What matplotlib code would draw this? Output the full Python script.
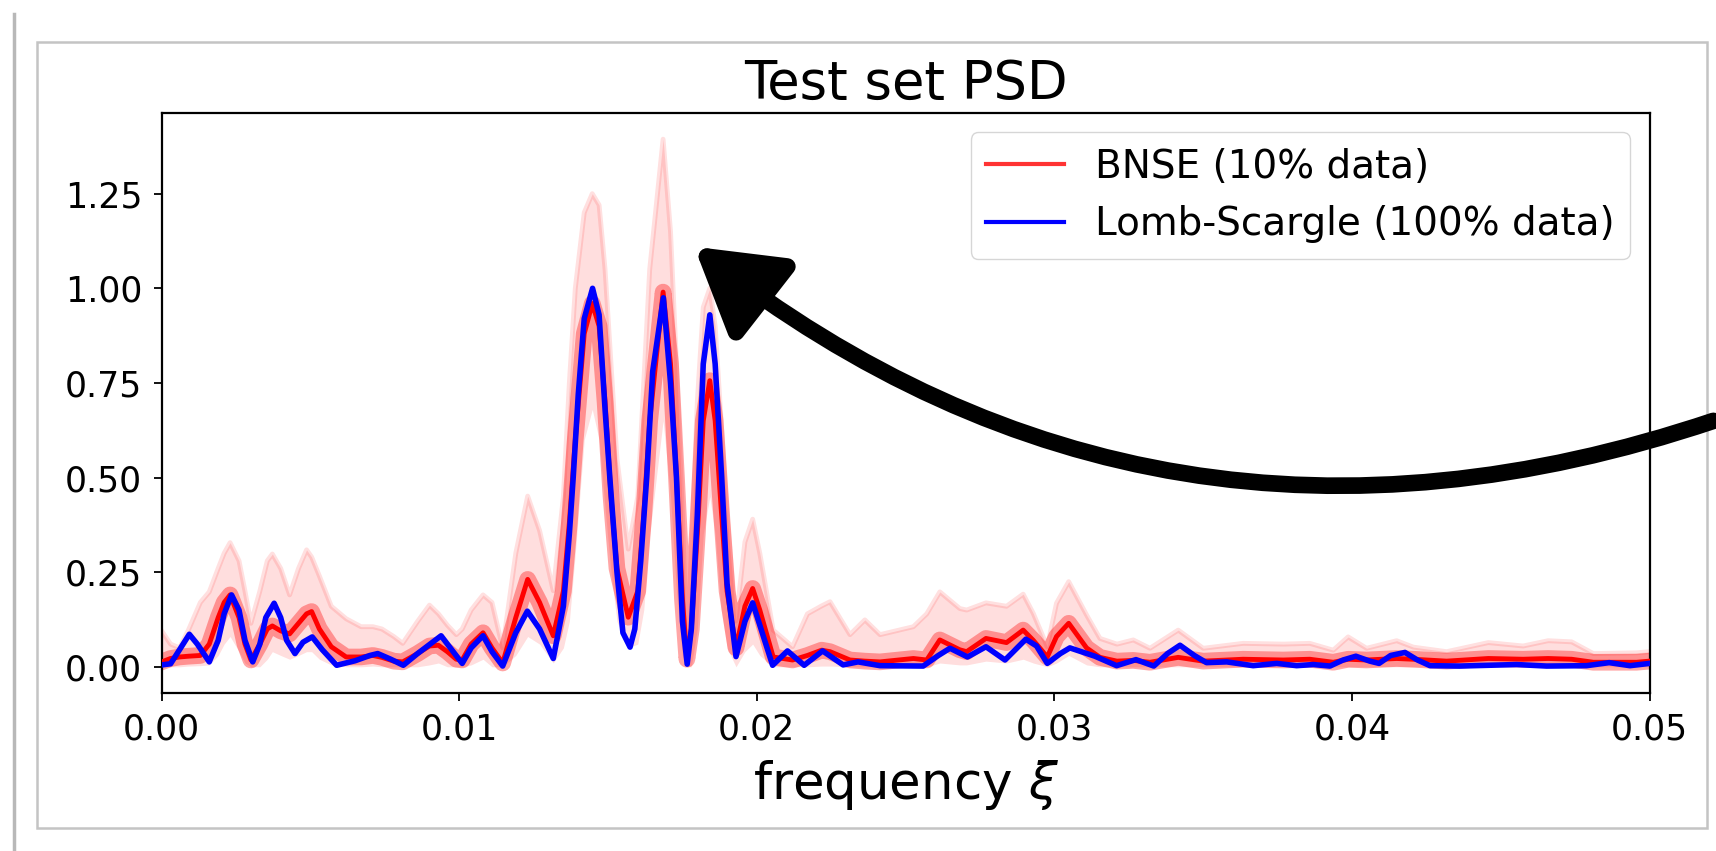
import matplotlib
matplotlib.use("Agg")
from matplotlib import pyplot as plt
from matplotlib.patches import FancyArrowPatch, Rectangle
from matplotlib.lines import Line2D
import numpy as np

# Lomb-Scargle periodogram (100% data)
ls_freq = [0.0, 0.0003, 0.0006, 0.00093, 0.0012, 0.0016, 0.0019, 0.0021, 0.00235, 0.0026,
           0.0028, 0.00306, 0.0033, 0.0035, 0.00378, 0.004, 0.0042, 0.00448, 0.00475, 0.00506,
           0.0054, 0.00588, 0.0065, 0.007, 0.00726, 0.0077, 0.00812, 0.0086, 0.00939, 0.0097,
           0.0101, 0.0104, 0.0108, 0.0111, 0.01146, 0.0119, 0.01229, 0.0127, 0.01316, 0.0135,
           0.0137, 0.01383, 0.014, 0.0142, 0.01448, 0.0147, 0.0149, 0.01506, 0.0153, 0.0155,
           0.01574, 0.0159, 0.0161, 0.0163, 0.0165, 0.01686, 0.0171, 0.0173, 0.0175, 0.01766,
           0.0178, 0.018, 0.0182, 0.01842, 0.0186, 0.01882, 0.019, 0.0193, 0.0196, 0.01986,
           0.0201, 0.02053, 0.02103, 0.02159, 0.02221, 0.0229, 0.0234, 0.02414, 0.02559, 0.0261,
           0.02649, 0.02708, 0.0277, 0.02834, 0.02904, 0.0294, 0.02976, 0.0302, 0.03052, 0.03136,
           0.03209, 0.03274, 0.03334, 0.0338, 0.03422, 0.0347, 0.03511, 0.03579, 0.03668, 0.03747,
           0.03814, 0.0387, 0.03926, 0.0397, 0.04013, 0.0406, 0.04091, 0.0413, 0.04178, 0.0422,
           0.04262, 0.04362, 0.04553, 0.04654, 0.04788, 0.04864, 0.04934, 0.05]
ls_power = [0.005, 0.008, 0.045, 0.086, 0.06, 0.013, 0.07, 0.14, 0.19, 0.15,
            0.07, 0.013, 0.06, 0.13, 0.168, 0.13, 0.07, 0.035, 0.065, 0.079,
            0.045, 0.004, 0.016, 0.03, 0.035, 0.02, 0.004, 0.035, 0.082, 0.05,
            0.009, 0.05, 0.082, 0.04, 0.002, 0.09, 0.147, 0.1, 0.022, 0.16,
            0.35, 0.5, 0.72, 0.92, 1.0, 0.93, 0.68, 0.5, 0.25, 0.09,
            0.052, 0.1, 0.28, 0.5, 0.78, 0.975, 0.75, 0.5, 0.12, 0.007,
            0.1, 0.4, 0.8, 0.93, 0.8, 0.5, 0.22, 0.027, 0.12, 0.169,
            0.11, 0.004, 0.042, 0.004, 0.042, 0.005, 0.013, 0.003, 0.002, 0.03,
            0.049, 0.026, 0.053, 0.018, 0.073, 0.055, 0.009, 0.035, 0.05, 0.028,
            0.003, 0.019, 0.002, 0.035, 0.057, 0.03, 0.011, 0.013, 0.003, 0.009,
            0.003, 0.006, 0.002, 0.018, 0.028, 0.015, 0.009, 0.03, 0.038, 0.018,
            0.003, 0.002, 0.006, 0.002, 0.003, 0.011, 0.003, 0.009]

# BNSE posterior samples (10% data): mean and spread of the samples
bnse_freq = [0.0, 0.0003, 0.0006, 0.0009, 0.0013, 0.0016, 0.0019, 0.0021, 0.0023, 0.0026,
             0.0028, 0.003, 0.0033, 0.00355, 0.00372, 0.004, 0.0043, 0.0046, 0.00487, 0.00504,
             0.0053, 0.0057, 0.0062, 0.0067, 0.0071, 0.0074, 0.0078, 0.0081, 0.0086, 0.009,
             0.0093, 0.0096, 0.0099, 0.0101, 0.0104, 0.0108, 0.0111, 0.01146, 0.0119, 0.0123,
             0.0127, 0.01316, 0.0135, 0.0137, 0.0139, 0.0142, 0.01447, 0.0147, 0.0149, 0.0151,
             0.0153, 0.01568, 0.016, 0.0162, 0.0164, 0.01685, 0.0171, 0.0173, 0.0175, 0.01765,
             0.0178, 0.018, 0.0182, 0.01842, 0.0186, 0.0188, 0.019, 0.0193, 0.0196, 0.01986,
             0.0201, 0.02055, 0.0212, 0.0217, 0.02218, 0.02246, 0.02313, 0.02363, 0.02414, 0.02526,
             0.02571, 0.02615, 0.02682, 0.02705, 0.0277, 0.02839, 0.02895, 0.02929, 0.02976, 0.03007,
             0.03048, 0.03108, 0.03153, 0.0321, 0.03265, 0.03321, 0.03416, 0.035, 0.03634, 0.03769,
             0.03858, 0.03937, 0.03987, 0.04049, 0.0415, 0.04206, 0.04318, 0.04458, 0.04575, 0.04659,
             0.04738, 0.04811, 0.04956, 0.05]
bnse_mean = [0.013, 0.022, 0.026, 0.028, 0.03, 0.06, 0.13, 0.17, 0.19, 0.13,
             0.06, 0.018, 0.06, 0.1, 0.108, 0.095, 0.087, 0.115, 0.14, 0.146,
             0.1, 0.053, 0.026, 0.026, 0.03, 0.025, 0.015, 0.013, 0.035, 0.055,
             0.057, 0.04, 0.02, 0.018, 0.06, 0.09, 0.05, 0.01, 0.13, 0.231,
             0.17, 0.082, 0.2, 0.38, 0.6, 0.88, 0.96, 0.9, 0.7, 0.45,
             0.26, 0.131, 0.2, 0.4, 0.65, 0.99, 0.8, 0.5, 0.18, 0.02,
             0.1, 0.35, 0.65, 0.756, 0.65, 0.42, 0.2, 0.05, 0.16, 0.207,
             0.15, 0.026, 0.018, 0.03, 0.044, 0.04, 0.018, 0.015, 0.013, 0.022,
             0.018, 0.071, 0.045, 0.04, 0.075, 0.064, 0.097, 0.07, 0.026, 0.08,
             0.115, 0.05, 0.025, 0.015, 0.017, 0.012, 0.025, 0.015, 0.02, 0.018,
             0.02, 0.012, 0.02, 0.018, 0.022, 0.02, 0.015, 0.022, 0.02, 0.022,
             0.02, 0.012, 0.012, 0.015]
bnse_low = [0.0, 0.0, 0.0, 0.002, 0.003, 0.005, 0.03, 0.06, 0.08, 0.04,
            0.01, 0.0, 0.0, 0.02, 0.04, 0.03, 0.02, 0.03, 0.04, 0.04,
            0.02, 0.005, 0.0, 0.0, 0.002, 0.0, 0.0, 0.0, 0.0, 0.005,
            0.01, 0.0, 0.0, 0.0, 0.005, 0.02, 0.0, 0.0, 0.03, 0.08,
            0.06, 0.01, 0.05, 0.12, 0.3, 0.6, 0.68, 0.6, 0.42, 0.25,
            0.12, 0.05, 0.06, 0.15, 0.35, 0.65, 0.45, 0.2, 0.03, 0.0,
            0.0, 0.1, 0.35, 0.45, 0.35, 0.15, 0.05, 0.0, 0.04, 0.06,
            0.03, 0.0, 0.0, 0.0, 0.002, 0.002, 0.0, 0.0, 0.0, 0.0,
            0.0, 0.01, 0.005, 0.005, 0.015, 0.01, 0.02, 0.01, 0.0, 0.01,
            0.03, 0.005, 0.0, 0.0, 0.0, 0.0, 0.0, 0.0, 0.0, 0.0,
            0.0, 0.0, 0.0, 0.0, 0.0, 0.0, 0.0, 0.0, 0.0, 0.0,
            0.0, 0.0, 0.0, 0.0]
bnse_high = [0.095, 0.06, 0.05, 0.097, 0.17, 0.198, 0.26, 0.3, 0.328, 0.28,
             0.2, 0.115, 0.2, 0.28, 0.298, 0.26, 0.19, 0.26, 0.309, 0.29,
             0.24, 0.16, 0.127, 0.106, 0.106, 0.1, 0.08, 0.062, 0.12, 0.163,
             0.14, 0.11, 0.085, 0.1, 0.15, 0.19, 0.17, 0.05, 0.3, 0.451,
             0.36, 0.201, 0.45, 0.75, 1.0, 1.2, 1.25, 1.22, 1.05, 0.8,
             0.55, 0.311, 0.45, 0.75, 1.05, 1.394, 1.15, 0.8, 0.4, 0.052,
             0.3, 0.7, 0.95, 1.0, 0.9, 0.65, 0.4, 0.121, 0.33, 0.39,
             0.3, 0.097, 0.053, 0.14, 0.161, 0.172, 0.085, 0.124, 0.085, 0.106,
             0.14, 0.198, 0.154, 0.15, 0.169, 0.16, 0.192, 0.141, 0.053, 0.168,
             0.225, 0.137, 0.075, 0.06, 0.071, 0.049, 0.097, 0.049, 0.062, 0.06,
             0.062, 0.044, 0.079, 0.049, 0.069, 0.052, 0.04, 0.064, 0.055, 0.069,
             0.066, 0.035, 0.037, 0.04]

fig = plt.figure(figsize=(17.16, 8.51), dpi=100)
ax = fig.add_axes([0.0942, 0.1853, 0.8671, 0.6823])

ax.fill_between(bnse_freq, bnse_low, bnse_high, color='red', alpha=0.13, lw=0, zorder=1)
ax.plot(bnse_freq, bnse_high, color='red', alpha=0.12, lw=3.5, zorder=1,
        solid_joinstyle='round')
ax.plot(bnse_freq, bnse_mean, color='red', alpha=0.35, lw=12, zorder=2,
        solid_joinstyle='round')
ax.plot(bnse_freq, bnse_mean, color='red', lw=3.5, zorder=3, solid_joinstyle='round')
ax.plot(ls_freq, ls_power, color='blue', lw=4, zorder=4, solid_joinstyle='round')

ax.set_xlim(0, 0.05)
ax.set_ylim(-0.07, 1.464)
ax.set_xticks([0.0, 0.01, 0.02, 0.03, 0.04, 0.05])
ax.set_yticks([0.0, 0.25, 0.5, 0.75, 1.0, 1.25])
ax.tick_params(labelsize=25, length=6, width=1.3, pad=8)
for s in ax.spines.values():
    s.set_linewidth(1.6)
ax.set_title('Test set PSD', fontsize=38, pad=10)
ax.set_xlabel(r'frequency $\xi$', fontsize=37, labelpad=8)

handles = [Line2D([], [], color='red', alpha=0.8, lw=3),
           Line2D([], [], color='blue', lw=3)]
ax.legend(handles, ['BNSE (10% data)', 'Lomb-Scargle (100% data)'],
          loc='upper right', fontsize=28)

# screenshot frame
fig.add_artist(Rectangle((37 / 1716, 1 - 828 / 851), 1670 / 1716, 786 / 851,
                         transform=fig.transFigure, fill=False, ec='#c4c4c4', lw=1.8))
fig.add_artist(Line2D([14 / 1716, 14 / 1716], [0, 1 - 14 / 851],
                      transform=fig.transFigure, color='#b8b8b8', lw=2.5))

# hand-drawn arrow
arrow = FancyArrowPatch((1.0, 1 - 420 / 851), (692 / 1716, 1 - 245 / 851),
                        transform=fig.transFigure, connectionstyle='arc3,rad=-0.27',
                        arrowstyle='-|>,head_length=0.5,head_width=0.3',
                        mutation_scale=100, color='black', lw=12, zorder=10)
fig.add_artist(arrow)

fig.savefig('out.png', dpi=100)
